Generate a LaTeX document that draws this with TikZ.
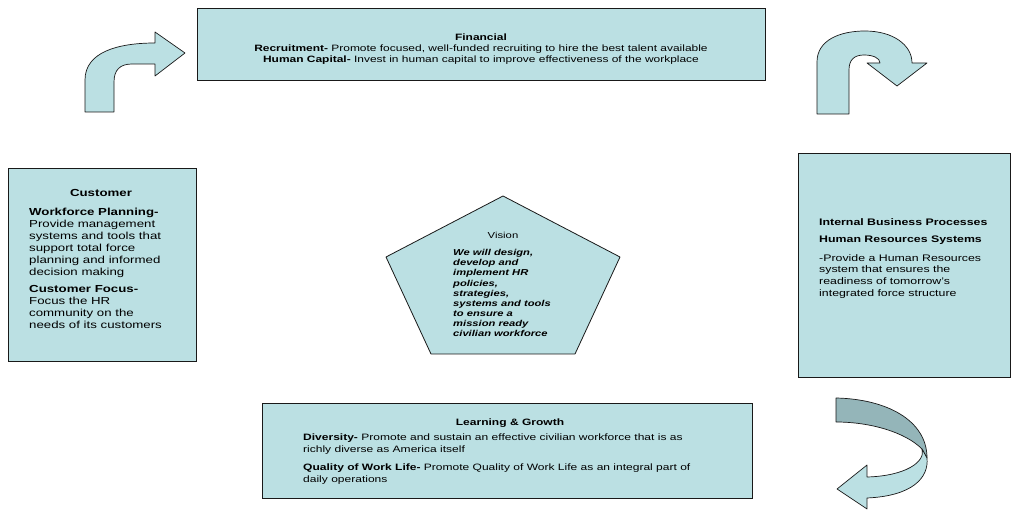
\documentclass[tikz,border=0pt]{standalone}
\usepackage{fontspec}
\setmainfont{Liberation Sans}[FakeStretch=1.3]
\definecolor{boxfill}{RGB}{187,224,227}
\definecolor{backfill}{RGB}{148,181,185}
\definecolor{edgecol}{RGB}{25,25,25}
\tikzset{
  panel/.style={draw=edgecol, line width=0.9pt, fill=boxfill, inner sep=0pt, anchor=north west},
  shapeline/.style={draw=edgecol, line width=0.7pt, fill=boxfill, line join=round},
  backline/.style={draw=edgecol, line width=0.7pt, fill=backfill, line join=round},
  txt/.style={inner sep=0pt, text=black},
}
\begin{document}
\begin{tikzpicture}[x=1pt,y=-1pt]
\useasboundingbox (0,0) rectangle (1012,510);
\fill[white] (0,0) rectangle (1012,510);

% panels
\node[panel, minimum width=568pt, minimum height=72pt] (fin) at (197,8) {};
\node[panel, minimum width=188pt, minimum height=193pt] (cust) at (8,168) {};
\node[panel, minimum width=212pt, minimum height=224pt] (ibp) at (798,153) {};
\node[panel, minimum width=490pt, minimum height=95pt] (learn) at (262,403) {};

% pentagon
\coordinate (p1) at (503,196);
\coordinate (p2) at (620,257);
\coordinate (p3) at (575,354);
\coordinate (p4) at (431,354);
\coordinate (p5) at (386,257);
\draw[shapeline, line width=0.8pt] (p1) -- (p2) -- (p3) -- (p4) -- (p5) -- cycle;

% top box text
\node[txt, anchor=north, align=center, font={\fontsize{9.2}{11.2}\selectfont}] (fintext) at (481,33.5)
  {\textbf{Financial}\\
   \textbf{Recruitment-} Promote focused, well-funded recruiting to hire the best talent available\\
   \textbf{Human Capital-} Invest in human capital to improve effectiveness of the workplace};

% left box text
\node[txt, anchor=base, font={\fontsize{10.2}{12}\selectfont\bfseries}] (custtitle) at (101,197) {Customer};
\node[txt, anchor=north west, align=left, font={\fontsize{10.2}{12}\selectfont}] (custtext) at (29,208.2)
  {\textbf{Workforce Planning-}\\
   Provide management\\
   systems and tools that\\
   support total force\\
   planning and informed\\
   decision making\\[5pt]
   \textbf{Customer Focus-}\\
   Focus the HR\\
   community on the\\
   needs of its customers};

% right box text
\node[txt, anchor=north west, align=left, font={\fontsize{9.5}{11.6}\selectfont}] (ibptext) at (819,218.2)
  {\textbf{Internal Business Processes}\\[5.9pt]
   \textbf{Human Resources Systems}\\[6.9pt]
   -Provide a Human Resources\\
   system that ensures the\\
   readiness of tomorrow's\\
   integrated force structure};

% bottom box text
\node[txt, anchor=base, font={\fontsize{9.25}{11.8}\selectfont\bfseries}] (learntitle) at (510,425) {Learning \& Growth};
\node[txt, anchor=north west, align=left, font={\fontsize{9.25}{11.8}\selectfont}] (learntext) at (303,433.9)
  {\textbf{Diversity-} Promote and sustain an effective civilian workforce that is as\\
   richly diverse as America itself\\[5.9pt]
   \textbf{Quality of Work Life-} Promote Quality of Work Life as an integral part of\\
   daily operations};

% vision text
\node[txt, anchor=base, font={\fontsize{8.7}{10.1}\selectfont}] (vtitle) at (503,239) {Vision};
\node[txt, anchor=north west, align=left, font={\fontsize{8.6}{10.1}\selectfont\bfseries\itshape}] (vtext) at (453,249.3)
  {We will design,\\
   develop and\\
   implement HR\\
   policies,\\
   strategies,\\
   systems and tools\\
   to ensure a\\
   mission ready\\
   civilian workforce};

% top-left bent arrow
\draw[shapeline] (85,112) -- (85,80) .. controls (85,52) and (118,43) .. (155,43)
  -- (155,32) -- (185,53) -- (155,76) -- (155,64) -- (132,64)
  .. controls (120,64) and (114,70) .. (114,82) -- (114,112) -- cycle;

% top-right U-turn arrow
\draw[shapeline] (817,114) -- (817,62) .. controls (817,40) and (840,31) .. (865,31)
  .. controls (893,31) and (912,45) .. (912,63) -- (927,63) -- (897,86) -- (867,63) -- (880,63)
  .. controls (880,58) and (873,55) .. (864,55) .. controls (854,55) and (849,60) .. (849,70)
  -- (849,114) -- cycle;

% bottom-right curved ribbon arrow
\draw[backline] (836,398) .. controls (886,399) and (927,420) .. (927,458)
  -- (922,449) .. controls (905,432) and (870,422) .. (836,422) -- cycle;
\draw[shapeline] (922,449) .. controls (926,462) and (905,476) .. (867,477)
  -- (867,465) -- (837,489) -- (867,509) -- (867,498)
  .. controls (912,496) and (929,478) .. (927,458) -- cycle;
\end{tikzpicture}
\end{document}
